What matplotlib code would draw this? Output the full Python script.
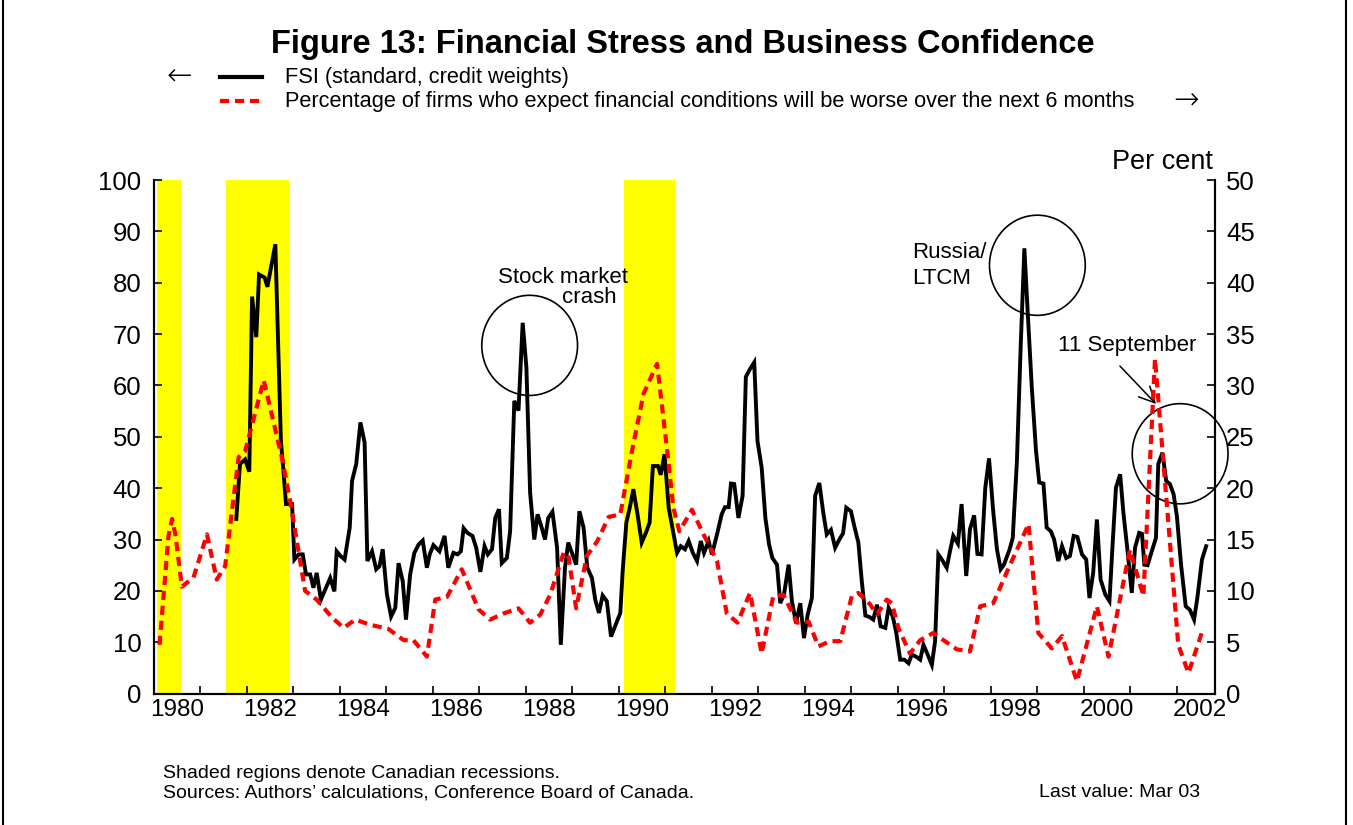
import numpy as np
import matplotlib.pyplot as plt
from matplotlib.patches import Ellipse
from matplotlib.lines import Line2D

plt.rcParams['font.family'] = ['Liberation Sans', 'DejaVu Sans']

# FSI (left axis)
fsi_dates = [1981.77, 1981.85, 1981.96, 1982.05, 1982.11, 1982.20, 1982.26, 1982.38, 1982.44, 1982.61,
             1982.73, 1982.79, 1982.84, 1982.97, 1983.02, 1983.11, 1983.20, 1983.27, 1983.36, 1983.43,
             1983.50, 1983.59, 1983.79, 1983.88, 1983.93, 1984.01, 1984.10, 1984.21, 1984.26, 1984.35,
             1984.44, 1984.53, 1984.59, 1984.69, 1984.78, 1984.85, 1984.92, 1985.01, 1985.10, 1985.19,
             1985.26, 1985.35, 1985.42, 1985.51, 1985.60, 1985.69, 1985.78, 1985.87, 1985.93, 1986.01,
             1986.14, 1986.25, 1986.33, 1986.44, 1986.53, 1986.60, 1986.66, 1986.74, 1986.85, 1986.93,
             1987.02, 1987.11, 1987.18, 1987.27, 1987.34, 1987.42, 1987.48, 1987.59, 1987.66, 1987.75,
             1987.84, 1987.93, 1988.01, 1988.09, 1988.18, 1988.25, 1988.33, 1988.41, 1988.48, 1988.57,
             1988.67, 1988.75, 1988.84, 1988.91, 1989.00, 1989.08, 1989.15, 1989.24, 1989.32, 1989.42,
             1989.49, 1989.57, 1989.65, 1989.74, 1989.83, 1989.93, 1990.03, 1990.08, 1990.16, 1990.24,
             1990.31, 1990.40, 1990.49, 1990.58, 1990.66, 1990.73, 1990.84, 1990.90, 1990.98, 1991.07,
             1991.15, 1991.25, 1991.33, 1991.42, 1991.50, 1991.59, 1991.68, 1991.76, 1991.83, 1991.93,
             1992.00, 1992.11, 1992.21, 1992.28, 1992.36, 1992.41, 1992.48, 1992.57, 1992.66, 1992.73,
             1992.82, 1992.91, 1992.98, 1993.07, 1993.15, 1993.23, 1993.30, 1993.40, 1993.47, 1993.55,
             1993.65, 1993.72, 1993.81, 1993.90, 1993.98, 1994.06, 1994.15, 1994.22, 1994.31, 1994.40,
             1994.47, 1994.56, 1994.65, 1994.74, 1994.82, 1994.89, 1994.99, 1995.07, 1995.15, 1995.22,
             1995.30, 1995.39, 1995.47, 1995.55, 1995.63, 1995.73, 1995.80, 1995.89, 1995.96, 1996.05,
             1996.14, 1996.23, 1996.30, 1996.39, 1996.48, 1996.55, 1996.64, 1996.73, 1996.80, 1996.87,
             1996.96, 1997.05, 1997.12, 1997.19, 1997.29, 1997.37, 1997.47, 1997.55, 1997.64, 1997.71,
             1997.80, 1997.88, 1997.96, 1998.05, 1998.13, 1998.21, 1998.28, 1998.40, 1998.47, 1998.56,
             1998.64, 1998.72, 1998.79, 1998.88, 1998.97, 1999.04, 1999.13, 1999.20, 1999.29, 1999.36,
             1999.45, 1999.53, 1999.62, 1999.70, 1999.78, 1999.86, 1999.96, 2000.05, 2000.12, 2000.20,
             2000.28, 2000.36, 2000.46, 2000.55, 2000.62, 2000.69, 2000.78, 2000.85, 2000.94, 2001.03,
             2001.10, 2001.19, 2001.25, 2001.30, 2001.37, 2001.46, 2001.55, 2001.60, 2001.69, 2001.77,
             2001.85, 2001.93, 2002.00, 2002.09, 2002.19, 2002.28, 2002.37, 2002.44, 2002.54, 2002.63]
fsi_vals = [34.0, 44.7, 45.6, 43.2, 77.3, 69.4, 81.6, 81.0, 79.2, 87.5,
            49.2, 42.7, 36.9, 36.9, 26.1, 27.1, 27.1, 23.2, 23.2, 20.6,
            23.5, 18.3, 22.5, 19.9, 27.7, 26.8, 26.1, 32.3, 41.4, 44.7,
            52.8, 48.9, 25.8, 27.7, 24.2, 24.8, 28.1, 19.3, 15.0, 16.7,
            25.4, 21.9, 14.4, 23.2, 27.4, 29.0, 29.8, 24.5, 27.1, 28.9,
            27.7, 30.7, 24.5, 27.4, 27.1, 27.7, 32.2, 31.3, 30.7, 28.4,
            23.7, 28.7, 27.1, 28.1, 34.2, 35.9, 25.4, 26.4, 31.6, 57.0,
            55.1, 72.2, 63.5, 39.1, 30.0, 34.9, 32.6, 30.0, 34.2, 35.4,
            28.4, 9.5, 24.5, 29.4, 27.1, 25.1, 35.5, 32.3, 24.5, 22.5,
            18.3, 15.7, 19.1, 18.0, 11.1, 13.4, 15.7, 23.8, 33.3, 36.5,
            39.8, 34.9, 29.4, 31.3, 33.3, 44.3, 44.3, 42.6, 46.6, 36.2,
            32.3, 27.4, 28.7, 28.1, 29.7, 27.4, 25.8, 29.7, 27.4, 29.7,
            27.1, 31.0, 34.9, 36.3, 36.3, 40.9, 40.8, 34.2, 38.5, 61.7,
            63.2, 64.5, 49.2, 44.0, 34.2, 29.0, 26.4, 25.1, 17.6, 19.3,
            25.1, 18.0, 13.7, 17.6, 10.8, 15.4, 18.6, 38.5, 41.0, 34.9,
            31.0, 31.9, 28.4, 30.0, 31.2, 36.2, 35.5, 32.3, 29.4, 22.2,
            15.2, 14.9, 14.4, 17.3, 13.1, 12.8, 16.7, 15.0, 12.1, 6.6,
            6.6, 5.9, 7.6, 7.2, 6.6, 9.5, 7.6, 5.6, 10.2, 27.1,
            25.9, 24.5, 27.7, 30.7, 29.2, 36.9, 22.9, 32.0, 34.7, 27.2,
            27.1, 40.1, 45.8, 35.5, 28.1, 24.2, 25.1, 28.0, 30.3, 45.3,
            67.4, 86.7, 74.6, 59.6, 47.3, 41.1, 40.9, 32.3, 31.6, 30.0,
            25.8, 28.7, 26.4, 26.8, 30.7, 30.5, 27.1, 26.1, 18.6, 23.5,
            33.9, 22.2, 19.3, 18.0, 29.4, 40.1, 42.7, 35.2, 27.7, 19.6,
            28.4, 31.3, 31.1, 25.1, 25.0, 27.7, 30.3, 44.7, 46.9, 41.4,
            40.8, 38.8, 34.6, 25.1, 17.0, 16.3, 14.4, 18.6, 26.1, 28.7]

# Percentage of firms expecting worse conditions (right axis)
pct_dates = [1980.12, 1980.31, 1980.39, 1980.46, 1980.60, 1980.85, 1981.14, 1981.35, 1981.53, 1981.82,
             1981.96, 1982.36, 1982.75, 1982.93, 1983.25, 1983.50, 1983.83, 1984.08, 1984.33, 1984.65,
             1985.04, 1985.37, 1985.58, 1985.87, 1986.05, 1986.30, 1986.62, 1986.98, 1987.23, 1987.52,
             1987.84, 1988.09, 1988.31, 1988.52, 1988.81, 1988.91, 1989.08, 1989.31, 1989.53, 1989.78,
             1990.03, 1990.28, 1990.53, 1990.82, 1991.03, 1991.17, 1991.30, 1991.57, 1991.82, 1992.11,
             1992.32, 1992.55, 1992.82, 1993.07, 1993.32, 1993.54, 1993.83, 1994.08, 1994.29, 1994.54,
             1994.76, 1995.01, 1995.15, 1995.40, 1995.55, 1995.76, 1995.87, 1996.01, 1996.26, 1996.48,
             1996.76, 1996.98, 1997.27, 1997.55, 1997.77, 1998.05, 1998.38, 1998.81, 1999.02, 1999.31,
             1999.53, 1999.85, 2000.28, 2000.53, 2000.99, 2001.28, 2001.53, 2002.03, 2002.25, 2002.57]
pct_vals = [4.75, 15.3, 17.0, 15.5, 10.4, 11.3, 15.5, 11.1, 12.4, 23.0,
            23.6, 30.5, 23.0, 18.75, 10.0, 9.15, 7.4, 6.4, 7.2, 6.7,
            6.3, 5.2, 5.2, 3.6, 9.15, 9.4, 12.1, 8.2, 7.2, 7.8,
            8.3, 6.9, 7.7, 9.6, 13.7, 13.5, 8.3, 13.4, 14.8, 17.2,
            17.45, 23.6, 29.2, 32.1, 24.0, 18.1, 15.8, 17.9, 15.5, 12.9,
            7.8, 6.9, 9.8, 3.9, 9.5, 9.6, 6.9, 7.0, 4.6, 5.1,
            5.1, 9.5, 9.8, 8.7, 7.7, 9.15, 8.8, 6.4, 3.9, 5.2,
            5.9, 5.2, 4.3, 4.1, 8.5, 8.8, 12.2, 16.5, 5.9, 4.4,
            5.6, 1.2, 8.5, 3.6, 14.0, 9.5, 32.6, 4.75, 2.0, 6.4]

# Canadian recessions
rec_start = [1980.07, 1981.55, 1990.11]
rec_end = [1980.59, 1982.91, 1991.21]

year_labels = list(range(1980, 2003, 2))

fig = plt.figure(figsize=(13.53, 8.25), dpi=100)
ax = fig.add_axes([0.1138, 0.1593, 0.7842, 0.6225])
ax2 = ax.twinx()

for a, b in zip(rec_start, rec_end):
    ax.axvspan(a, b, color='#FFFF00', lw=0, zorder=0)

ax.plot(fsi_dates, fsi_vals, color='black', lw=2.8, solid_joinstyle='miter', zorder=2)
ax2.plot(pct_dates, pct_vals, color='#FF0000', lw=3, dashes=(2.2, 1.4), zorder=3)

ax.set_xlim(1980.0, 2002.82)
ax.set_ylim(0, 100)
ax2.set_ylim(0, 50)

ax.set_xticks(range(1981, 2003))
ax.set_xticklabels([])
ax.set_xticks([y + 0.5 for y in year_labels], minor=True)
ax.set_xticklabels([str(y) for y in year_labels], minor=True)
ax.tick_params(axis='x', which='major', direction='in', length=6, width=1.2)
ax.tick_params(axis='x', which='minor', length=0, labelsize=17.5, pad=4)

ax.set_yticks(range(0, 101, 10))
ax.tick_params(axis='y', direction='in', length=6, width=1.2, labelsize=18.5, pad=9)
ax2.set_yticks(range(0, 51, 5))
ax2.tick_params(axis='y', direction='in', length=6, width=1.2, labelsize=18.5, pad=8)

for a in (ax, ax2):
    a.spines['top'].set_visible(False)
    for s in ('left', 'right', 'bottom'):
        a.spines[s].set_linewidth(1.5)

# event circles
for cx, cy in [(1988.08, 67.8), (1999.0, 83.4), (2002.07, 46.7)]:
    ax.add_patch(Ellipse((cx, cy), 2.06, 19.5, fill=False, lw=1.2,
                         edgecolor='black', clip_on=False, zorder=5))

W, H = 1353, 825
fig.text(563 / W, 1 - 283 / H, 'Stock market', ha='center', va='baseline', fontsize=16)
fig.text(589 / W, 1 - 303 / H, 'crash', ha='center', va='baseline', fontsize=16)
fig.text(912 / W, 1 - 258 / H, 'Russia/', ha='left', va='baseline', fontsize=16)
fig.text(912 / W, 1 - 284 / H, 'LTCM', ha='left', va='baseline', fontsize=16)
fig.text(1127 / W, 1 - 351 / H, '11 September', ha='center', va='baseline', fontsize=16)
ax.annotate('', xy=(1158, H - 406), xycoords='figure pixels',
            xytext=(1118, H - 364), textcoords='figure pixels',
            arrowprops=dict(arrowstyle='->', lw=1.1, color='black', mutation_scale=28))

fig.text(1213 / W, 1 - 162 / H, 'Per cent', ha='right', va='center', fontsize=19.5)

# title and legend
fig.text(683 / W, 1 - 45 / H, 'Figure 13: Financial Stress and Business Confidence',
         ha='center', va='center', fontsize=23.5, fontweight='bold')
fig.text(179 / W, 1 - 76 / H, '\u2190', ha='center', va='center', fontsize=22,
         family=['DejaVu Sans'], fontweight='light')
fig.add_artist(Line2D([220 / W, 262 / W], [1 - 77 / H] * 2, color='black', lw=3,
                      transform=fig.transFigure))
fig.text(285 / W, 1 - 77 / H, 'FSI (standard, credit weights)', ha='left', va='center',
         fontsize=15.7)
fig.add_artist(Line2D([220 / W, 262 / W], [1 - 101 / H] * 2, color='#FF0000', lw=3,
                      dashes=(2.2, 1.4), transform=fig.transFigure))
fig.text(285 / W, 1 - 101 / H,
         'Percentage of firms who expect financial conditions will be worse over the next 6 months',
         ha='left', va='center', fontsize=15.7)
fig.text(1186 / W, 1 - 100 / H, '\u2192', ha='center', va='center', fontsize=22,
         family=['DejaVu Sans'], fontweight='light')

# notes
fig.text(163 / W, 1 - 778 / H, 'Shaded regions denote Canadian recessions.', ha='left',
         va='baseline', fontsize=14)
fig.text(163 / W, 1 - 797 / H, 'Sources: Authors\u2019 calculations, Conference Board of Canada.',
         ha='left', va='baseline', fontsize=14)
fig.text(1200 / W, 1 - 797 / H, 'Last value: Mar 03', ha='right', va='baseline', fontsize=14)

# outer frame
for xf in (3 / W, 1346 / W):
    fig.add_artist(Line2D([xf, xf], [0, 1], color='black', lw=1.5, transform=fig.transFigure))

fig.savefig('out.png', dpi=100)
